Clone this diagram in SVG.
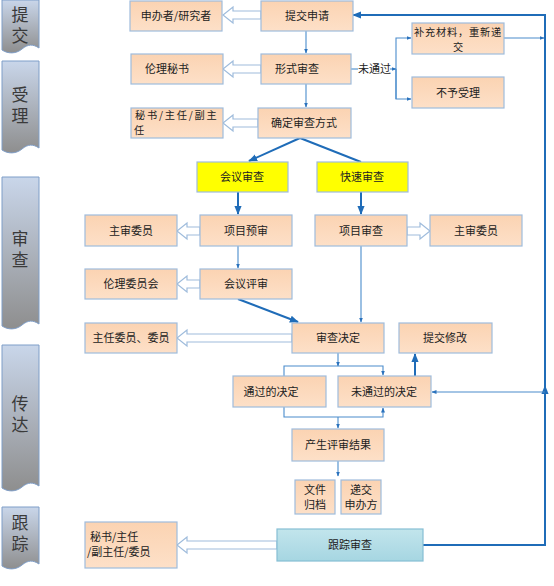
<svg xmlns="http://www.w3.org/2000/svg" width="554" height="586" viewBox="0 0 554 586">
<defs>
<linearGradient id="gBan" x1="0" y1="0" x2="0" y2="1">
<stop offset="0" stop-color="#c9d6ea"/><stop offset="1" stop-color="#8e8e8e"/>
</linearGradient>
<linearGradient id="gNode" x1="0" y1="0" x2="0" y2="1">
<stop offset="0" stop-color="#fbd3b2"/><stop offset="1" stop-color="#fde0c8"/>
</linearGradient>
<linearGradient id="gTrack" x1="0" y1="0" x2="0" y2="1">
<stop offset="0" stop-color="#c2e5ec"/><stop offset="1" stop-color="#a6d6e2"/>
</linearGradient>
<marker id="ah" viewBox="0 0 10 10" refX="9" refY="5" markerWidth="5" markerHeight="5" orient="auto" markerUnits="userSpaceOnUse">
<path d="M0,1 L10,5 L0,9 Z" fill="#2a72bd"/>
</marker>
<marker id="ahb" viewBox="0 0 10 10" refX="9" refY="5" markerWidth="9" markerHeight="9" orient="auto" markerUnits="userSpaceOnUse">
<path d="M0,1 L10,5 L0,9 Z" fill="#1f6cb8"/>
</marker>
</defs>
<style>
.ban{fill:url(#gBan);stroke:#7f9ec8;stroke-width:1}
.bt{font-family:"Noto Sans CJK SC","Noto Sans CJK JP",sans-serif;font-size:17px;fill:#3a3a3a;text-anchor:middle;writing-mode:vertical-rl;letter-spacing:4px}
.n{fill:url(#gNode);stroke:#9fbcdc;stroke-width:1.2}
.y{fill:#ffff00;stroke:#9fbcdc;stroke-width:1.2}
.tr{fill:url(#gTrack);stroke:#86bed4;stroke-width:1.2}
.t{font-family:"Noto Sans CJK SC","Noto Sans CJK JP",sans-serif;font-size:11px;fill:#222;text-anchor:middle}
.tl{font-family:"Noto Sans CJK SC","Noto Sans CJK JP",sans-serif;font-size:11px;fill:#222}
.sm{font-size:10.2px}
.thin{fill:none;stroke:#4a8ccc;stroke-width:1.1}
.thick{fill:none;stroke:#1f6cb8;stroke-width:2}
.hol{fill:#fff;stroke:#9fbcdc;stroke-width:1.2}
</style>

<g id="banners">
<path class="ban" d="M2,0 H39 V48 C33,44 28,44 22,49 C16,54 8,54 2,50 Z"/>
<text class="bt" x="20" y="27">提交</text>
<path class="ban" d="M2,61 H39 V148 C33,144 28,144 22,149 C16,154 8,154 2,150 Z"/>
<text class="bt" x="20" y="107">受理</text>
<path class="ban" d="M2,177 H39 V324 C33,320 28,320 22,325 C16,330 8,330 2,326 Z"/>
<text class="bt" x="20" y="251">审查</text>
<path class="ban" d="M2,345 H39 V486 C33,482 28,482 22,487 C16,492 8,492 2,488 Z"/>
<text class="bt" x="20" y="416">传达</text>
<path class="ban" d="M2,507 H39 V564 C33,560 28,560 22,565 C16,570 8,570 2,566 Z"/>
<text class="bt" x="20" y="535">跟踪</text>
</g>

<g id="connectors">
<path class="hol" d="M261,11 H233 V7 L223,15 L233,23 V19 H261 Z"/>
<path class="hol" d="M261,65 H233 V61 L223,69 L233,77 V73 H261 Z"/>
<path class="hol" d="M258,119 H233 V115 L223,123 L233,131 V127 H258 Z"/>
<path class="hol" d="M200,227 H187 V223 L177,231 L187,239 V235 H200 Z"/>
<path class="hol" d="M200,280 H187 V276 L177,284 L187,292 V288 H200 Z"/>
<path class="hol" d="M292,334 H187 V330 L177,338 L187,346 V342 H292 Z"/>
<path class="hol" d="M277,541 H187 V537 L177,545 L187,553 V549 H277 Z"/>
<path class="hol" d="M407,227 H420 V223 L430,231 L420,239 V235 H407 Z"/>
<line class="thin" x1="306" y1="31" x2="306" y2="53" marker-end="url(#ah)"/>
<line class="thin" x1="306" y1="84" x2="306" y2="107" marker-end="url(#ah)"/>
<line class="thin" x1="351" y1="69" x2="358" y2="69"/>
<text class="tl" x="358" y="73">未通过</text>
<polyline class="thin" points="390,69 396,69" marker-end="url(#ah)"/>
<polyline class="thin" points="396,99 396,38 411,38" marker-end="url(#ah)"/>
<polyline class="thin" points="396,69 396,99 411,99" marker-end="url(#ah)"/>
<line class="thin" x1="504" y1="38" x2="544" y2="38" marker-end="url(#ah)"/>
<line class="thick" x1="300" y1="138" x2="249" y2="161" marker-end="url(#ahb)"/>
<line class="thick" x1="300" y1="138" x2="361" y2="162"/>
<line class="thick" x1="238" y1="192" x2="238" y2="214" marker-end="url(#ahb)"/>
<line class="thick" x1="361" y1="192" x2="361" y2="214" marker-end="url(#ahb)"/>
<line class="thin" x1="238" y1="246" x2="238" y2="268" marker-end="url(#ah)"/>
<line class="thin" x1="361" y1="246" x2="361" y2="322" marker-end="url(#ah)"/>
<line class="thick" x1="238" y1="299" x2="298" y2="322" marker-end="url(#ahb)"/>
<line class="thin" x1="338" y1="353" x2="338" y2="366" marker-end="url(#ah)"/>
<polyline class="thin" points="284,376 284,366 383,366 383,375" marker-end="url(#ah)"/>
<polyline class="thin" points="284,407 284,417 383,417 383,408" marker-end="url(#ah)"/>
<line class="thin" x1="338" y1="417" x2="338" y2="428" marker-end="url(#ah)"/>
<line class="thin" x1="338" y1="461" x2="338" y2="476" marker-end="url(#ah)"/>
<line class="thick" x1="415" y1="376" x2="415" y2="354" marker-end="url(#ahb)"/>
<polyline class="thick" points="423,545 545,545 545,15 353,15" marker-end="url(#ahb)"/>
<line class="thick" x1="545" y1="420" x2="545" y2="386" marker-end="url(#ahb)"/>
<line class="thin" x1="545" y1="392" x2="432" y2="392" marker-end="url(#ah)"/>
</g>

<g id="n-sponsor"><rect class="n" x="130" y="1" width="92" height="30"/><text class="t" x="176" y="20">申办者/研究者</text></g>
<g id="n-submit"><rect class="n" x="261" y="1" width="92" height="30"/><text class="t" x="307" y="20">提交申请</text></g>
<g id="n-ethsec"><rect class="n" x="131" y="54" width="92" height="30"/><text class="t" x="167" y="73">伦理秘书</text></g>
<g id="n-formal"><rect class="n" x="261" y="54" width="90" height="30"/><text class="t" x="297" y="73">形式审查</text></g>
<g id="n-secdir"><rect class="n" x="131" y="108" width="92" height="30"/><text class="tl sm"><tspan x="135" y="119" letter-spacing="1.8">秘书/主任/副主</tspan><tspan x="134" y="134">任</tspan></text></g>
<g id="n-method"><rect class="n" x="258" y="108" width="93" height="30"/><text class="t" x="304" y="127">确定审查方式</text></g>
<g id="n-supplement"><rect class="n" x="412" y="23" width="92" height="31"/><text class="t sm"><tspan x="458" y="36" letter-spacing="0.8">补充材料，重新递</tspan><tspan x="458" y="51">交</tspan></text></g>
<g id="n-reject"><rect class="n" x="412" y="77" width="92" height="31"/><text class="t" x="458" y="97">不予受理</text></g>
<g id="n-meeting"><rect class="y" x="197" y="162" width="91" height="30"/><text class="t" x="242" y="181">会议审查</text></g>
<g id="n-fast"><rect class="y" x="317" y="162" width="91" height="30"/><text class="t" x="362" y="181">快速审查</text></g>
<g id="n-main1"><rect class="n" x="85" y="215" width="92" height="31"/><text class="t" x="131" y="235">主审委员</text></g>
<g id="n-prerev"><rect class="n" x="200" y="215" width="92" height="31"/><text class="t" x="246" y="235">项目预审</text></g>
<g id="n-projrev"><rect class="n" x="315" y="215" width="92" height="31"/><text class="t" x="361" y="235">项目审查</text></g>
<g id="n-main2"><rect class="n" x="430" y="215" width="92" height="31"/><text class="t" x="476" y="235">主审委员</text></g>
<g id="n-ethcom"><rect class="n" x="85" y="269" width="92" height="30"/><text class="t" x="131" y="288">伦理委员会</text></g>
<g id="n-meetrev"><rect class="n" x="200" y="269" width="92" height="30"/><text class="t" x="246" y="288">会议评审</text></g>
<g id="n-chair"><rect class="n" x="85" y="323" width="92" height="30"/><text class="t" x="131" y="342">主任委员、委员</text></g>
<g id="n-decision"><rect class="n" x="292" y="323" width="92" height="30"/><text class="t" x="338" y="342">审查决定</text></g>
<g id="n-modify"><rect class="n" x="399" y="323" width="93" height="30"/><text class="t" x="445" y="342">提交修改</text></g>
<g id="n-pass"><rect class="n" x="233" y="376" width="93" height="31"/><text class="t" x="271" y="396">通过的决定</text></g>
<g id="n-fail"><rect class="n" x="338" y="376" width="93" height="31"/><text class="t" x="384" y="396">未通过的决定</text></g>
<g id="n-result"><rect class="n" x="292" y="429" width="92" height="32"/><text class="t" x="338" y="449">产生评审结果</text></g>
<g id="n-archive"><rect class="n" x="295" y="480" width="40" height="34"/><text class="t"><tspan x="315" y="494">文件</tspan><tspan x="315" y="509">归档</tspan></text></g>
<g id="n-deliver"><rect class="n" x="341" y="480" width="40" height="34"/><text class="t"><tspan x="361" y="494">递交</tspan><tspan x="361" y="509">申办方</tspan></text></g>
<g id="n-staff"><rect class="n" x="85" y="522" width="92" height="46"/><text class="tl"><tspan x="90" y="541">秘书/主任</tspan><tspan x="87" y="556">/副主任/委员</tspan></text></g>
<g id="n-track"><rect class="tr" x="277" y="529" width="146" height="32"/><text class="t" x="350" y="549">跟踪审查</text></g>
</svg>
